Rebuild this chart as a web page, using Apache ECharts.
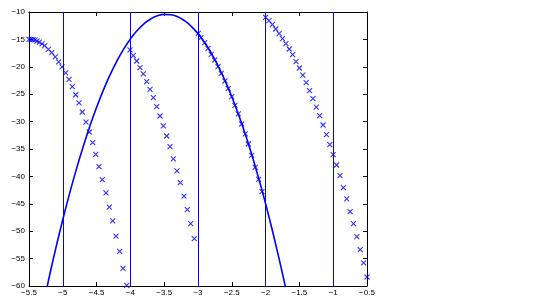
<!DOCTYPE html>
<html>
<head>
<meta charset="utf-8">
<script src="https://cdn.jsdelivr.net/npm/echarts@6/dist/echarts.min.js"></script>
<style>html,body{margin:0;padding:0;background:#fff}#c{width:538px;height:297px}</style>
</head>
<body>
<div id="c"></div>
<script>
// x-range and tick settings
const xMin = -5.5, xMax = -0.5, xStep = 0.5;
const yMin = -60, yMax = -10, yStep = 5;

// vertical reference lines
const vLines = [-5, -4, -3, -2, -1];

// solid parabola
const curve = [
  [-5.3,-64.0],[-5.2,-58.31],[-5.1,-52.93],[-5.0,-47.87],[-4.9,-43.14],[-4.8,-38.72],
  [-4.7,-34.63],[-4.6,-30.85],[-4.5,-27.39],[-4.4,-24.26],[-4.3,-21.44],[-4.2,-18.95],
  [-4.1,-16.77],[-4.0,-14.91],[-3.9,-13.38],[-3.8,-12.16],[-3.7,-11.27],[-3.6,-10.69],
  [-3.5,-10.43],[-3.4,-10.50],[-3.3,-10.88],[-3.2,-11.59],[-3.1,-12.61],[-3.0,-13.95],
  [-2.9,-15.62],[-2.8,-17.60],[-2.7,-19.91],[-2.6,-22.53],[-2.5,-25.47],[-2.4,-28.74],
  [-2.3,-32.32],[-2.2,-36.23],[-2.1,-40.45],[-2.0,-44.99],[-1.9,-49.86],[-1.8,-55.04],
  [-1.7,-60.55],[-1.6,-66.37]
];

// cross markers, four segments
const marksA = [
  [-5.500,-15.0],[-5.470,-15.0],[-5.441,-15.05],[-5.411,-15.1],[-5.382,-15.3],[-5.348,-15.5],
  [-5.308,-15.8],[-5.268,-16.15],[-5.214,-16.8],[-5.164,-17.4],[-5.111,-18.2],[-5.061,-19.1],
  [-5.012,-20.0],[-4.957,-21.1],[-4.908,-22.3],[-4.859,-23.6],[-4.809,-25.1],[-4.760,-26.6],
  [-4.712,-28.25],[-4.657,-30.1],[-4.608,-31.9],[-4.558,-33.85],[-4.513,-36.0],[-4.464,-38.2],
  [-4.416,-40.6],[-4.361,-43.0],[-4.312,-45.6],[-4.262,-48.1],[-4.213,-50.9],[-4.158,-53.7],
  [-4.109,-56.8],[-4.055,-59.9]
];
const marksB = [
  [-4.006,-16.93],[-3.957,-17.97],[-3.907,-18.94],[-3.858,-20.16],[-3.809,-21.31],[-3.759,-22.72],
  [-3.710,-24.1],[-3.661,-25.64],[-3.611,-27.28],[-3.562,-28.98],[-3.513,-30.8],[-3.463,-32.63],
  [-3.414,-34.58],[-3.365,-36.82],[-3.311,-39.0],[-3.262,-41.15],[-3.207,-43.58],[-3.158,-46.08],
  [-3.108,-48.63],[-3.055,-51.37]
];
const marksC = [
  [-2.996,-13.89],[-2.956,-14.69],[-2.901,-15.60],[-2.852,-16.62],[-2.804,-17.72],[-2.753,-18.76],
  [-2.704,-19.98],[-2.655,-21.19],[-2.601,-22.59],[-2.552,-24.0],[-2.501,-25.46],[-2.453,-27.03],
  [-2.404,-28.61],[-2.353,-30.44],[-2.300,-32.26],[-2.256,-34.09],[-2.206,-36.15],[-2.153,-38.34],
  [-2.103,-40.53],[-2.053,-42.79]
];
const marksD = [
  [-2.00,-10.97],[-1.95,-11.59],[-1.90,-12.32],[-1.85,-13.10],[-1.80,-13.96],[-1.75,-14.87],
  [-1.70,-15.78],[-1.65,-16.75],[-1.60,-17.79],[-1.55,-19.07],[-1.50,-20.22],[-1.45,-21.50],
  [-1.40,-22.90],[-1.35,-24.36],[-1.30,-25.82],[-1.25,-27.34],[-1.20,-28.92],[-1.15,-30.62],
  [-1.10,-32.39],[-1.05,-34.22],[-1.00,-36.04],[-0.95,-37.92],[-0.90,-39.87],[-0.85,-42.06],
  [-0.80,-44.12],[-0.75,-46.44],[-0.70,-48.63],[-0.65,-51.0],[-0.60,-53.38],[-0.55,-55.8],
  [-0.50,-58.36]
];

const BLUE = '#0000ff';
const fmt = v => String(+v.toFixed(1)).replace('-', '\u2212');
const font = {fontFamily: 'Liberation Sans, Arial, sans-serif', fontSize: 8, color: '#000'};

function axisCommon(extra) {
  return Object.assign({
    type: 'value',
    axisLine: {show: true, onZero: false, lineStyle: {color: '#000', width: 1}},
    axisTick: {show: true, inside: true, length: 4, lineStyle: {color: '#000'}},
    splitLine: {show: false}
  }, extra);
}

const crossSym = 'path://M0,0L10,10M10,0L0,10';
function markerSeries(data) {
  return {
    type: 'scatter', data: data, symbol: crossSym, symbolSize: 5,
    itemStyle: {color: 'rgba(0,0,0,0)', borderColor: BLUE, borderWidth: 1.1},
    silent: true, z: 3
  };
}

const chart = echarts.init(document.getElementById('c'), null, {renderer: 'canvas'});
chart.setOption({
  animation: false,
  backgroundColor: '#fff',
  grid: {left: 29, right: 171, top: 12, bottom: 11, containLabel: false},
  xAxis: [
    axisCommon({min: xMin, max: xMax, interval: xStep, position: 'bottom',
      axisLabel: Object.assign({margin: 3, formatter: fmt}, font)}),
    axisCommon({min: xMin, max: xMax, interval: xStep, position: 'top',
      axisLabel: {show: false}})
  ],
  yAxis: [
    axisCommon({min: yMin, max: yMax, interval: yStep, position: 'left',
      axisLabel: Object.assign({margin: 4, formatter: fmt}, font)}),
    axisCommon({min: yMin, max: yMax, interval: yStep, position: 'right',
      axisLabel: {show: false}})
  ],
  series: [
    {
      type: 'line', data: curve, smooth: true, showSymbol: false, clip: true,
      lineStyle: {color: BLUE, width: 1.6}, z: 2,
      markLine: {
        silent: true, symbol: 'none', label: {show: false},
        lineStyle: {color: BLUE, width: 1, type: 'solid'},
        data: vLines.map(v => ({xAxis: v}))
      }
    },
    markerSeries(marksA),
    markerSeries(marksB),
    markerSeries(marksC),
    markerSeries(marksD)
  ]
});
</script>
</body>
</html>
